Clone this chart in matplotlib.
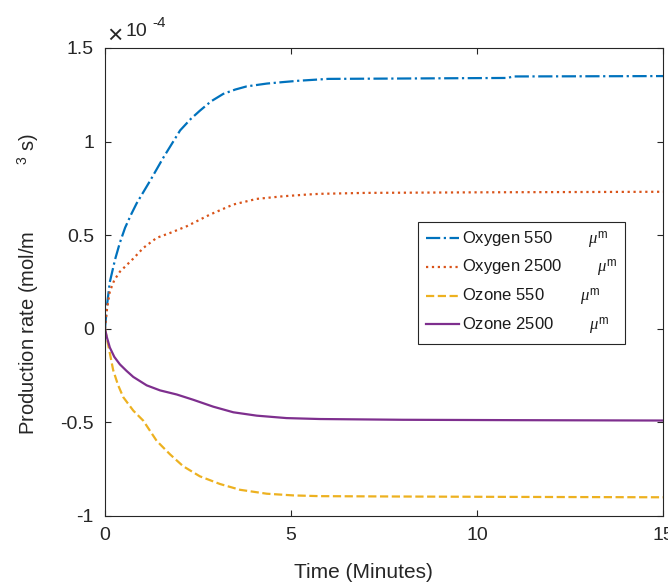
import matplotlib
matplotlib.use("Agg")
import matplotlib.pyplot as plt

plt.rcParams['font.family'] = ['Liberation Sans', 'DejaVu Sans']
plt.rcParams['mathtext.fontset'] = 'custom'
plt.rcParams['mathtext.rm'] = 'Liberation Sans'
plt.rcParams['mathtext.it'] = 'Liberation Serif:italic'

# production rates, in units of 1e-4 mol/(m^3 s)
t_o2_550 = [0, 0.05, 0.13, 0.27, 0.4, 0.54, 0.7, 0.85, 1.21, 1.57, 2.02, 2.3, 2.55, 2.85, 3.18, 3.5, 3.81, 4.35, 4.79, 5.2, 6.0, 8.0, 10.8, 11.0, 13.0, 15.0]
o2_550 = [0, 0.12, 0.25, 0.37, 0.46, 0.54, 0.61, 0.67, 0.79, 0.915, 1.06, 1.12, 1.165, 1.215, 1.255, 1.278, 1.295, 1.31, 1.318, 1.325, 1.335, 1.337, 1.34, 1.348, 1.349, 1.35]

t_o2_2500 = [0, 0.05, 0.13, 0.25, 0.4, 0.58, 0.76, 1.03, 1.39, 1.75, 2.2, 2.82, 3.45, 4.08, 4.79, 5.42, 5.78, 7.0, 10.0, 15.0]
o2_2500 = [0, 0.1, 0.2, 0.26, 0.305, 0.34, 0.375, 0.432, 0.486, 0.512, 0.548, 0.61, 0.664, 0.694, 0.708, 0.717, 0.721, 0.726, 0.729, 0.732]

t_o3_550 = [0, 0.05, 0.12, 0.22, 0.35, 0.49, 0.76, 1.03, 1.39, 1.75, 2.1, 2.55, 3.09, 3.63, 4.35, 5.06, 5.78, 8.0, 11.0, 15.0]
o3_550 = [0, -0.05, -0.12, -0.221, -0.3, -0.365, -0.437, -0.491, -0.599, -0.671, -0.734, -0.788, -0.829, -0.86, -0.881, -0.89, -0.894, -0.896, -0.898, -0.9]

t_o3_2500 = [0, 0.05, 0.13, 0.25, 0.4, 0.58, 0.76, 1.12, 1.48, 1.93, 2.37, 2.91, 3.45, 4.08, 4.88, 5.78, 8.0, 11.0, 15.0]
o3_2500 = [0, -0.045, -0.1, -0.15, -0.19, -0.225, -0.257, -0.302, -0.329, -0.351, -0.379, -0.416, -0.446, -0.464, -0.477, -0.482, -0.486, -0.488, -0.49]

labels = ['Oxygen 550', 'Oxygen 2500', 'Ozone 550', 'Ozone 2500']
colors = ['#0072BD', '#D95319', '#EDB120', '#7E2F8E']
styles = ['-.', ':', '--', '-']

x_ticks = [0, 5, 10, 15]
y_ticks = [-1, -0.5, 0, 0.5, 1, 1.5]
y_tick_labels = ['-1', '-0.5', '0', '0.5', '1', '1.5']

fig = plt.figure(figsize=(6.68, 5.83), dpi=100)
ax = fig.add_axes([105 / 668, 67 / 583, 558 / 668, 468 / 583])

series = [(t_o2_550, o2_550), (t_o2_2500, o2_2500), (t_o3_550, o3_550), (t_o3_2500, o3_2500)]
unit = '        $\\mu^{\\mathrm{m}}$'
for (t, v), lab, c, ls in zip(series, labels, colors, styles):
    ax.plot(t, v, color=c, linestyle=ls, linewidth=1.6, label=lab + unit)

ax.set_xlim(0, 15)
ax.set_ylim(-1, 1.5)
ax.set_xticks(x_ticks)
ax.set_yticks(y_ticks)
ax.set_yticklabels(y_tick_labels)

axis_col = '0.15'
for s in ax.spines.values():
    s.set_color(axis_col)
    s.set_linewidth(0.8)
ax.tick_params(direction='in', length=4, width=0.8, colors=axis_col,
               labelsize=14, pad=8, top=True, right=True)

ax.set_xlabel('Time (Minutes)', fontsize=15, color=axis_col)
ax.xaxis.set_label_coords(258 / 558, -0.1)
ax.set_ylabel('Production rate (mol/m            $^{3}$ s)', fontsize=14.5, color=axis_col)
ax.yaxis.set_label_coords(-0.115, 0.497)

# exponent marker above the y axis
fig.text(107 / 668, 1 - 43 / 583, '×', fontsize=19, color=axis_col)
fig.text(126 / 668, 1 - 36 / 583, '10', fontsize=14, color=axis_col)
fig.text(152 / 668, 1 - 27 / 583, '-4', fontsize=11, color=axis_col)

leg = ax.legend(loc='upper left', bbox_to_anchor=(313 / 558, 294 / 468),
                borderaxespad=0, fontsize=12, frameon=True, fancybox=False,
                framealpha=1, edgecolor=axis_col, handlelength=2.0,
                handletextpad=0.2, labelspacing=0.45, borderpad=0.45)
leg.get_frame().set_linewidth(0.8)
for txt in leg.get_texts():
    txt.set_color('0.1')

fig.savefig('out.png', dpi=100)
